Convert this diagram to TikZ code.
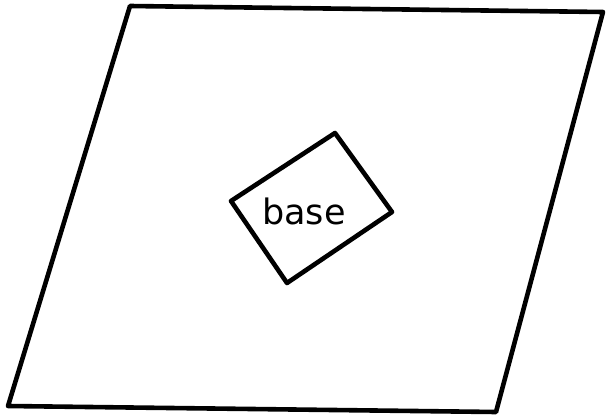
\documentclass[tikz,border=0pt]{standalone}
\usepackage{fontspec}
\newfontfamily\handfont{DejaVu Sans}
\begin{document}
\begin{tikzpicture}[x=1pt,y=-1pt,
  outline/.style={line width=4.6pt,line join=round,line cap=round,draw=black},
  label/.style={font=\handfont\fontsize{35}{40}\selectfont,inner sep=0pt}]
\useasboundingbox (0,0) rectangle (606,418);
\coordinate (p1) at (130,6);
\coordinate (p2) at (603,12);
\coordinate (p3) at (496,412);
\coordinate (p4) at (8,406);
\draw[outline] (p1) -- (p2) -- (p3) -- (p4) -- cycle;
\coordinate (b1) at (231,201);
\coordinate (b2) at (335,133);
\coordinate (b3) at (392,212);
\coordinate (b4) at (287,283);
\draw[outline] (b1) -- (b2) -- (b3) -- (b4) -- cycle;
\node[label] (base) at (304,211) {base};
\end{tikzpicture}
\end{document}
